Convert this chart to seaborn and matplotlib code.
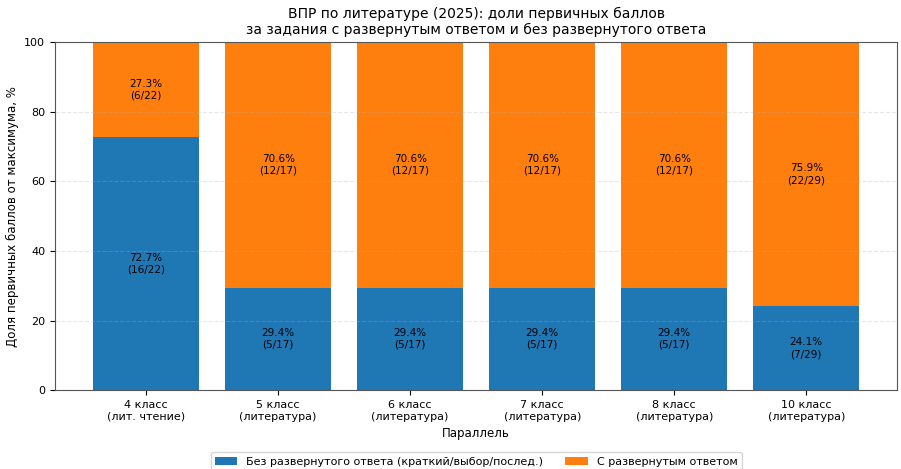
import matplotlib
matplotlib.use("Agg")
import matplotlib.pyplot as plt
import seaborn as sns
import pandas as pd

# Data
classes = ["4 класс\n(лит. чтение)", "5 класс\n(литература)", "6 класс\n(литература)",
           "7 класс\n(литература)", "8 класс\n(литература)", "10 класс\n(литература)"]
short_pts = [16, 5, 5, 5, 5, 7]
long_pts = [6, 12, 12, 12, 12, 22]
max_pts = [22, 17, 17, 17, 17, 29]

short_pct = [s / m * 100 for s, m in zip(short_pts, max_pts)]
long_pct = [l / m * 100 for l, m in zip(long_pts, max_pts)]
total_pct = [a + b for a, b in zip(short_pct, long_pct)]

df = pd.DataFrame({"class": classes, "short": short_pct, "long": long_pct, "total": total_pct})

blue = "#1f77b4"
orange = "#ff7f0e"

fig, ax = plt.subplots(figsize=(9.01, 4.69), dpi=100)
plt.subplots_adjust(left=0.061, right=0.996, top=0.91, bottom=0.168)

# stacked: draw total in orange, then bottom part in blue over it
sns.barplot(data=df, x="class", y="total", color=orange, width=0.8, saturation=1,
            ax=ax, label="С развернутым ответом")
sns.barplot(data=df, x="class", y="short", color=blue, width=0.8, saturation=1,
            ax=ax, label="Без развернутого ответа (краткий/выбор/послед.)")

for i in range(len(classes)):
    ax.text(i, short_pct[i] / 2, f"{short_pct[i]:.1f}%\n({short_pts[i]}/{max_pts[i]})",
            ha="center", va="center", fontsize=7.5, color="black")
    ax.text(i, short_pct[i] + long_pct[i] / 2, f"{long_pct[i]:.1f}%\n({long_pts[i]}/{max_pts[i]})",
            ha="center", va="center", fontsize=7.5, color="black")

ax.set_ylim(0, 100)
ax.set_xlim(-0.69, 5.69)
ax.grid(axis="y", linestyle="--", alpha=0.3)
ax.set_title("ВПР по литературе (2025): доли первичных баллов\nза задания с развернутым ответом и без развернутого ответа",
             fontsize=10)
ax.set_xlabel("Параллель", fontsize=8.5)
ax.set_ylabel("Доля первичных баллов от максимума, %", fontsize=8.5)
ax.tick_params(labelsize=8)
for s in ax.spines.values():
    s.set_color("#555555")

handles, labels = ax.get_legend_handles_labels()
ax.legend(handles[::-1], labels[::-1], loc="upper center", bbox_to_anchor=(0.5, -0.162),
          ncol=2, fontsize=8)

plt.savefig("out.png", dpi=100)
